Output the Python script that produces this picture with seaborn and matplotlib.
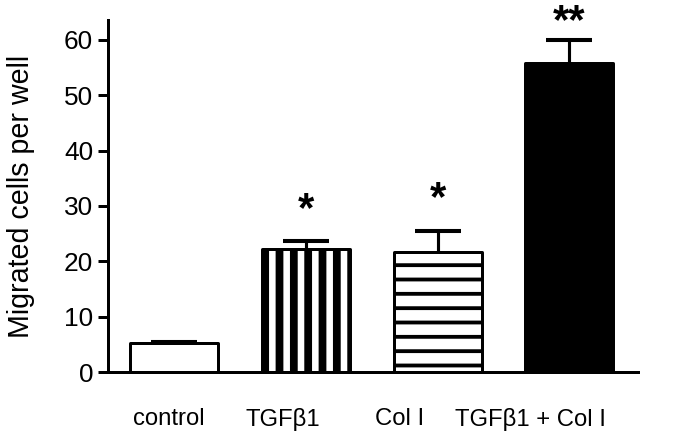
import matplotlib
matplotlib.use("Agg")
import matplotlib.pyplot as plt
import matplotlib.transforms as mtransforms
import seaborn as sns
import pandas as pd

# Data
categories = ["control", "TGFβ1", "Col I", "TGFβ1 + Col I"]
means = [5.2, 22.2, 21.7, 55.8]
upper_err = [0.3, 1.5, 3.7, 4.2]
stars = ["", "*", "*", "**"]
star_y = [0, 27.3, 29.2, 61.2]

fills = ["white", "white", "white", "black"]
hatches = ["", "|", "-", ""]
hatch_widths = [1.0, 6.5, 3.2, 1.0]
label_shift_px = [-5, -23, -38, -39]

DPI = 86
sns.set_style("ticks")
plt.rcParams["font.family"] = ["Liberation Sans", "DejaVu Sans"]
plt.rcParams["hatch.color"] = "black"
for key in ["text.color", "axes.labelcolor", "xtick.color", "ytick.color", "axes.edgecolor"]:
    plt.rcParams[key] = "black"

df = pd.DataFrame({"group": categories, "cells": means})

fig = plt.figure(figsize=(688 / DPI, 445 / DPI), dpi=DPI)
ax = fig.add_axes([108 / 688, 73 / 445, 530 / 688, 352 / 445])

sns.barplot(data=df, x="group", y="cells", hue="group", palette=fills,
            legend=False, errorbar=None, width=0.667, ax=ax,
            edgecolor="black", linewidth=2.5, zorder=2)

for patch, h, hw in zip(ax.patches, hatches, hatch_widths):
    patch.set_hatch(h)
    patch.set_joinstyle("round")
    if hasattr(patch, "set_hatch_linewidth"):
        patch.set_hatch_linewidth(hw)

# upper-only error bars: stem plus a single cap
xs = list(range(len(categories)))
tops = [m + e for m, e in zip(means, upper_err)]
ax.vlines(xs, means, tops, color="black", linewidth=2.6, zorder=1)
ax.plot(xs, tops, linestyle="none", marker="_", markersize=39,
        markeredgewidth=3.4, color="black", zorder=3)

for x, s, y in zip(xs, stars, star_y):
    if s:
        ax.text(x, y, s, ha="center", va="baseline", fontsize=35,
                fontweight="bold", clip_on=False)

ax.set_xlim(-0.5, 3.52)
ax.set_ylim(0, 63.6)
ax.set_yticks([0, 10, 20, 30, 40, 50, 60])
ax.set_xlabel("")
ax.set_ylabel("Migrated cells per well", fontsize=24, labelpad=24)
ax.tick_params(axis="y", labelsize=22, width=2.5, length=8.5, pad=4)
ax.tick_params(axis="x", labelsize=20, length=0, pad=30)

for lab, dx in zip(ax.get_xticklabels(), label_shift_px):
    lab.set_transform(lab.get_transform() +
                      mtransforms.ScaledTranslation(dx / DPI, 0, fig.dpi_scale_trans))

for side in ["left", "bottom"]:
    ax.spines[side].set_linewidth(2.5)
sns.despine(ax=ax)

fig.savefig("out.png", dpi=DPI)
